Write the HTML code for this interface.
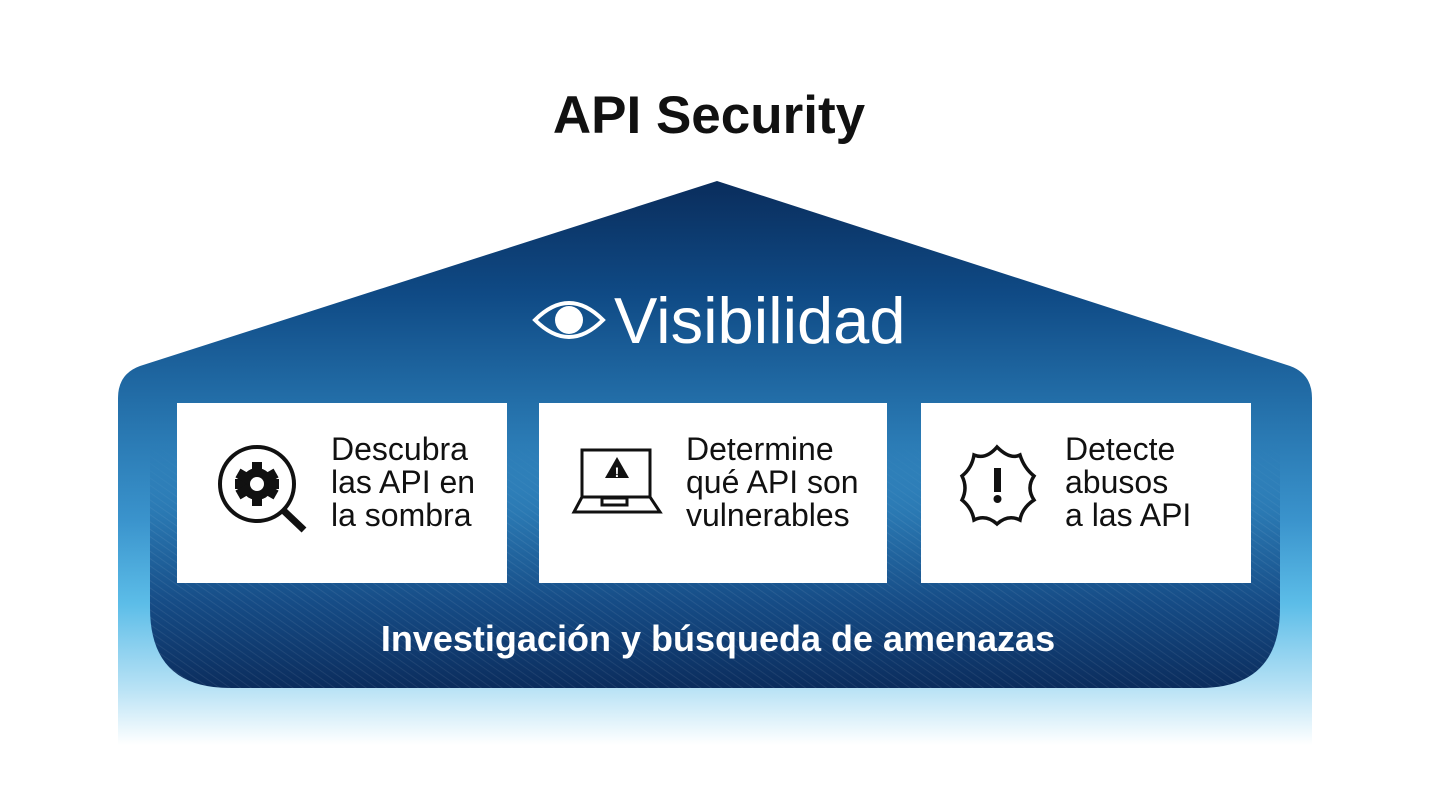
<!DOCTYPE html>
<html><head><meta charset="utf-8"><style>
html,body{margin:0;padding:0;background:#fff;width:1440px;height:810px;overflow:hidden}
svg{display:block}
text{font-family:"Liberation Sans",sans-serif}
</style></head><body>
<svg width="1440" height="810" viewBox="0 0 1440 810" xmlns="http://www.w3.org/2000/svg">
<defs>
<linearGradient id="outer" x1="0" y1="181" x2="0" y2="745" gradientUnits="userSpaceOnUse">
<stop offset="0" stop-color="#0a2d5c"/>
<stop offset="0.2" stop-color="#0f4a85"/>
<stop offset="0.4" stop-color="#2470aa"/>
<stop offset="0.6" stop-color="#3a93cc"/>
<stop offset="0.75" stop-color="#5cbde8"/>
<stop offset="0.9" stop-color="#b8e2f5"/>
<stop offset="1" stop-color="#ffffff"/>
</linearGradient>
<linearGradient id="inner" x1="0" y1="440" x2="0" y2="690" gradientUnits="userSpaceOnUse">
<stop offset="0" stop-color="#2a78b2" stop-opacity="0"/>
<stop offset="0.3" stop-color="#2a78b2"/>
<stop offset="0.65" stop-color="#164c86"/>
<stop offset="1" stop-color="#0b2c5c"/>
</linearGradient>
<linearGradient id="hfade" x1="0" y1="440" x2="0" y2="690" gradientUnits="userSpaceOnUse">
<stop offset="0" stop-color="#fff" stop-opacity="0"/>
<stop offset="0.35" stop-color="#fff" stop-opacity="1"/>
</linearGradient>
<mask id="m"><rect x="0" y="0" width="1440" height="810" fill="url(#hfade)"/></mask>
<pattern id="hatch" width="6" height="6" patternUnits="userSpaceOnUse" patternTransform="rotate(-55)">
<line x1="0" y1="0" x2="0" y2="6" stroke="#ffffff" stroke-opacity="0.07" stroke-width="2"/>
</pattern>
</defs>
<text x="709" y="133" text-anchor="middle" font-size="53" font-weight="bold" fill="#111">API Security</text>
<path d="M717 181 L1290 366 Q1312 374 1312 398 L1312 745 L118 745 L118 398 Q118 374 140 366 Z" fill="url(#outer)"/>
<path d="M150 440 L1280 440 L1280 608 Q1280 688 1200 688 L230 688 Q150 688 150 608 Z" fill="url(#inner)"/>
<path d="M150 440 L1280 440 L1280 608 Q1280 688 1200 688 L230 688 Q150 688 150 608 Z" fill="url(#hatch)" mask="url(#m)"/>
<g transform="translate(569,320)">
<path d="M-34 0 Q0 -34 34 0 Q0 34 -34 0 Z" fill="none" stroke="#fff" stroke-width="4"/>
<circle cx="0" cy="0" r="14" fill="#fff"/>
</g>
<text x="614" y="343" font-size="65" fill="#fff">Visibilidad</text>
<rect x="177" y="403" width="330" height="180" fill="#fff"/>
<rect x="539" y="403" width="348" height="180" fill="#fff"/>
<rect x="921" y="403" width="330" height="180" fill="#fff"/>
<g transform="translate(257,484)">
<circle r="37" fill="none" stroke="#111" stroke-width="4"/>
<line x1="27" y1="27" x2="47" y2="46" stroke="#111" stroke-width="7"/>
<circle r="16" fill="#111"/>
<g fill="#111"><rect x="-5" y="-22" width="10" height="44"/><rect x="-22" y="-5" width="44" height="10"/><rect x="-5" y="-22" width="10" height="44" transform="rotate(60)"/><rect x="-5" y="-22" width="10" height="44" transform="rotate(-60)"/></g>
<circle r="7" fill="#fff"/>
</g>
<text font-size="32" fill="#111"><tspan x="331" y="460">Descubra</tspan><tspan x="331" y="493">las API en</tspan><tspan x="331" y="526">la sombra</tspan></text>
<g fill="none" stroke="#111" stroke-width="3">
<rect x="582" y="450" width="68" height="47"/>
<path d="M582 497 L574 512 L660 512 L650 497"/>
<rect x="602" y="498" width="25" height="7"/>
</g>
<path d="M617 457 L629 478 L605 478 Z" fill="#111"/>
<text x="617" y="477" font-size="14" font-weight="bold" fill="#fff" text-anchor="middle">!</text>
<text font-size="32" fill="#111"><tspan x="686" y="460">Determine</tspan><tspan x="686" y="493">qué API son</tspan><tspan x="686" y="526">vulnerables</tspan></text>
<path d="M997 447 Q1010 460 1020 455 Q1024 468 1034 476 Q1026 488 1034 500 Q1022 508 1020 520 Q1008 514 997 524 Q986 514 974 520 Q972 508 962 500 Q968 488 962 476 Q972 468 974 455 Q986 460 997 447 Z" fill="none" stroke="#111" stroke-width="3.5"/>
<rect x="994" y="468" width="7" height="24" fill="#111"/>
<circle cx="997.5" cy="499" r="4" fill="#111"/>
<text font-size="32" fill="#111"><tspan x="1065" y="460">Detecte</tspan><tspan x="1065" y="493">abusos</tspan><tspan x="1065" y="526">a las API</tspan></text>
<text x="718" y="651" text-anchor="middle" font-size="36" font-weight="bold" fill="#fff">Investigación y búsqueda de amenazas</text>
</svg>
</body></html>
